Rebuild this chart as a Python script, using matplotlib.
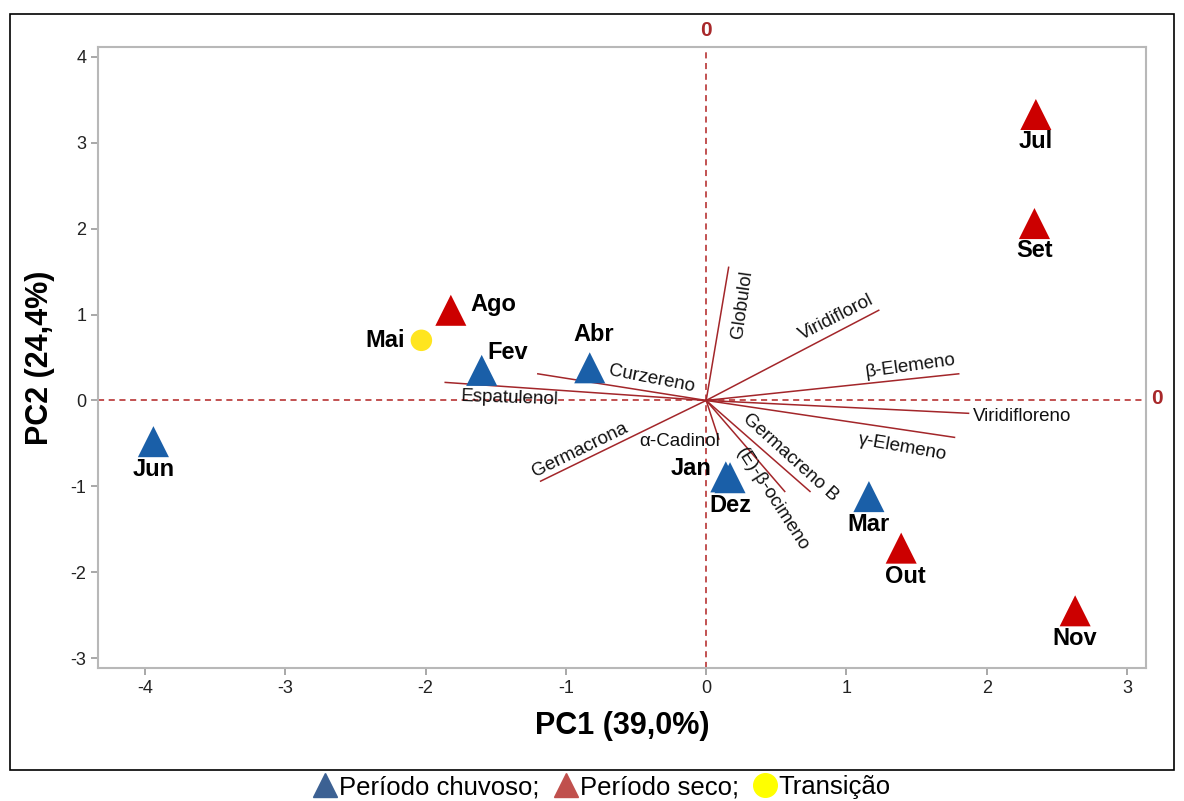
import numpy as np
import matplotlib.pyplot as plt
from matplotlib.lines import Line2D
from matplotlib.patches import Rectangle

plt.rcParams['font.family'] = ['Liberation Sans', 'DejaVu Sans']
plt.rcParams['axes.unicode_minus'] = False

# Scores by month
months = ['Jan', 'Fev', 'Mar', 'Abr', 'Mai', 'Jun', 'Jul', 'Ago', 'Set', 'Out', 'Nov', 'Dez']
pc1 = [0.14, -1.60, 1.16, -0.83, -2.03, -3.94, 2.35, -1.82, 2.34, 1.39, 2.63, 0.17]
pc2 = [-0.89, 0.35, -1.12, 0.38, 0.70, -0.48, 3.33, 1.05, 2.06, -1.72, -2.45, -0.90]
period = ['chuvoso', 'chuvoso', 'chuvoso', 'chuvoso', 'transicao', 'chuvoso',
          'seco', 'seco', 'seco', 'seco', 'seco', 'chuvoso']

# Loadings of the compounds
compounds = ['Globulol', 'Viridiflorol', 'β-Elemeno', 'Viridifloreno', 'γ-Elemeno',
             'Germacreno B', '(E)-β-ocimeno', 'α-Cadinol', 'Germacrona',
             'Espatulenol', 'Curzereno']
load1 = [0.16, 1.23, 1.80, 1.87, 1.77, 0.74, 0.56, 0.09, -1.18, -1.86, -1.20]
load2 = [1.55, 1.05, 0.31, -0.15, -0.43, -1.06, -1.06, -0.45, -0.94, 0.21, 0.31]

marker_style = {
    'chuvoso': dict(marker='^', color='#1a5fa8', s=500),
    'seco': dict(marker='^', color='#cc0000', s=500),
    'transicao': dict(marker='o', color='#ffe51f', s=240),
}

# label placement relative to each point (dx, dy in points, ha, va)
label_pos = {
    'Jan': (-10, 6, 'right', 'center'), 'Fev': (4, 13, 'left', 'center'),
    'Mar': (0, -12, 'center', 'top'), 'Abr': (3, 24, 'center', 'center'),
    'Mai': (-12, 0, 'right', 'center'), 'Jun': (0, -12, 'center', 'top'),
    'Jul': (0, -11, 'center', 'top'), 'Ago': (14, 4, 'left', 'center'),
    'Set': (0, -11, 'center', 'top'), 'Out': (3, -12, 'center', 'top'),
    'Nov': (0, -12, 'center', 'top'), 'Dez': (0, -12, 'center', 'top'),
}

# compound label placement (x, y, rotation, ha, va)
comp_text = {
    'Globulol': (0.26, 1.12, 82, 'center', 'center'),
    'Viridiflorol': (0.93, 0.97, 27, 'center', 'center'),
    'β-Elemeno': (1.46, 0.40, 8, 'center', 'center'),
    'Viridifloreno': (1.90, -0.19, 0, 'left', 'center'),
    'γ-Elemeno': (1.40, -0.55, -10, 'center', 'center'),
    'Germacreno B': (0.60, -0.67, -42, 'center', 'center'),
    '(E)-β-ocimeno': (0.47, -1.15, -57, 'center', 'center'),
    'α-Cadinol': (-0.19, -0.48, 0, 'center', 'center'),
    'Germacrona': (-0.90, -0.58, 26, 'center', 'center'),
    'Espatulenol': (-1.40, 0.03, -2, 'center', 'center'),
    'Curzereno': (-0.39, 0.25, -11, 'center', 'center'),
}

fig = plt.figure(figsize=(11.84, 8.01), dpi=100)
ax = fig.add_axes([98 / 1184, 1 - 668 / 801, (1146 - 98) / 1184, (668 - 47) / 801])

ax.axhline(0, color='#b22222', ls=(0, (4, 3)), lw=1.1, zorder=1)
ax.axvline(0, color='#b22222', ls=(0, (4, 3)), lw=1.1, zorder=1)

for name, x, y in zip(compounds, load1, load2):
    ax.plot([0, x], [0, y], color='#a3262a', lw=1.1, zorder=2)
    tx, ty, rot, ha, va = comp_text[name]
    ax.text(tx, ty, name, rotation=rot, ha=ha, va=va, fontsize=13.5,
            color='#111111', rotation_mode='anchor', zorder=3)

for m, x, y, p in zip(months, pc1, pc2, period):
    st = marker_style[p]
    ax.scatter(x, y, marker=st['marker'], color=st['color'], s=st['s'],
               edgecolors='none', zorder=4)
    dx, dy, ha, va = label_pos[m]
    ax.annotate(m, (x, y), xytext=(dx, dy), textcoords='offset points',
                ha=ha, va=va, fontsize=17, fontweight='bold', color='black', zorder=5)

ax.set_xlim(-4.335, 3.135)
ax.set_ylim(-3.116, 4.116)
ax.set_xticks(range(-4, 4))
ax.set_yticks(range(-3, 5))
ax.tick_params(colors='#999999', labelcolor='#222222', labelsize=13, length=5, width=1.2)
for sp in ax.spines.values():
    sp.set_color('#b8b8b8')
    sp.set_linewidth(1.5)

ax.set_xlabel('PC1 (39,0%)', fontsize=22, fontweight='bold', labelpad=10)
ax.set_ylabel('PC2 (24,4%)', fontsize=22, fontweight='bold', labelpad=11)

# zero markers for the reference lines
ax.text(0, 4.2, '0', color='#a8282a', fontsize=15, fontweight='bold',
        ha='center', va='bottom', clip_on=False)
ax.text(3.21, 0.02, '0', color='#a8282a', fontsize=15, fontweight='bold',
        ha='center', va='center', clip_on=False)

# outer frame
fig.patches.append(Rectangle((10 / 1184, 1 - 770 / 801), 1164 / 1184, 756 / 801,
                             transform=fig.transFigure, fill=False, ec='black', lw=1.2))

handles = [
    Line2D([], [], marker='^', color='#3c6193', ls='none', markersize=17),
    Line2D([], [], marker='^', color='#c0504d', ls='none', markersize=17),
    Line2D([], [], marker='o', color='#ffff00', ls='none', markersize=17),
]
fig.legend(handles, ['Período chuvoso;', 'Período seco;', 'Transição'], ncol=3,
           loc='center', bbox_to_anchor=(601 / 1184, 1 - 787 / 801), frameon=False,
           fontsize=18.5, handletextpad=0.0, columnspacing=0.45, handlelength=1.1,
           borderpad=0)

fig.savefig('out.png', dpi=100)
